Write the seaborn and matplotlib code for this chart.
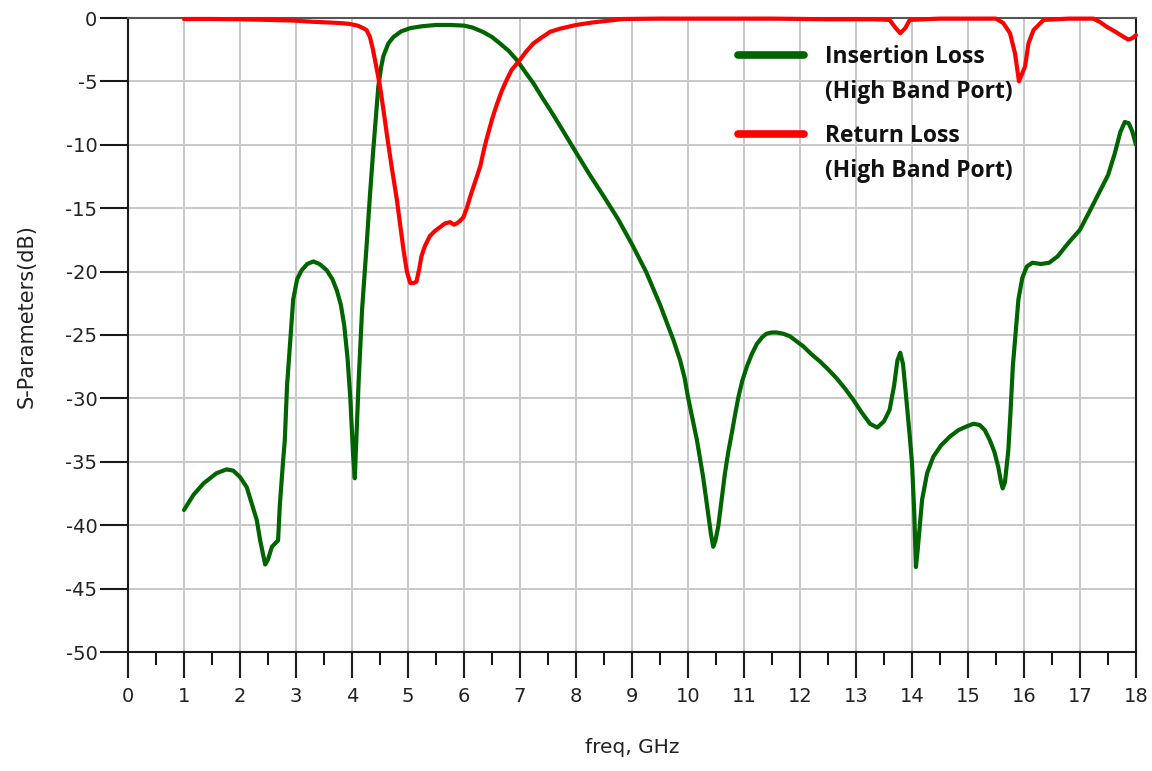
import matplotlib
matplotlib.use("Agg")
import matplotlib.pyplot as plt
import numpy as np
import pandas as pd
import seaborn as sns
from matplotlib.lines import Line2D
from matplotlib.ticker import MultipleLocator

# ---------------- data ----------------
il_freq = [1.0, 1.17, 1.35, 1.58, 1.76, 1.88, 2.0, 2.12, 2.21, 2.3, 2.36, 2.45, 2.5,
           2.57, 2.68, 2.71, 2.77, 2.80, 2.84, 2.89, 2.95, 3.02, 3.1, 3.2, 3.31, 3.42,
           3.55, 3.65, 3.73, 3.80, 3.86, 3.92, 3.97, 4.02, 4.05, 4.08, 4.12, 4.18, 4.26,
           4.32, 4.38, 4.43, 4.47, 4.52, 4.56, 4.65, 4.74, 4.88, 5.04, 5.25, 5.5, 5.75, 6.0,
           6.15, 6.34, 6.5, 6.64, 6.8, 6.94, 7.1, 7.24, 7.4, 7.54, 7.7, 7.83, 8.0, 8.25,
           8.5, 8.75, 9.0, 9.25, 9.5, 9.62, 9.74, 9.86, 9.94, 10.0, 10.08, 10.16, 10.27, 10.36,
           10.41, 10.45, 10.49, 10.54, 10.6, 10.66, 10.72, 10.78, 10.84, 10.9, 10.97, 11.05,
           11.14, 11.23, 11.32, 11.4, 11.5, 11.58, 11.7, 11.82, 11.94, 12.06, 12.2, 12.36,
           12.5, 12.65, 12.8, 12.95, 13.1, 13.25, 13.38, 13.5, 13.6, 13.68, 13.74, 13.79,
           13.84, 13.9, 13.96, 14.0, 14.04, 14.07, 14.1, 14.14, 14.18, 14.27, 14.38, 14.52,
           14.68, 14.83, 14.98, 15.1, 15.21, 15.3, 15.39, 15.47, 15.54, 15.59, 15.62, 15.66,
           15.72, 15.76, 15.8, 15.85, 15.9, 15.97, 16.05, 16.15, 16.3, 16.45, 16.6, 16.8,
           17.0, 17.2, 17.35, 17.5, 17.62, 17.72, 17.8, 17.87, 17.93, 18.0]
il_db = [-38.8, -37.6, -36.7, -35.9, -35.6, -35.7, -36.2, -37.0, -38.3, -39.6, -41.2, -43.1,
         -42.7, -41.7, -41.2, -38.5, -34.9, -33.3, -29.0, -25.9, -22.2, -20.6, -19.9, -19.4,
         -19.2, -19.4, -19.9, -20.6, -21.5, -22.6, -24.2, -26.8, -30.0, -34.5, -36.3, -33.0,
         -28.5, -23.0, -18.0, -14.0, -10.4, -7.6, -5.4, -3.9, -3.0, -2.0, -1.5, -1.05, -0.8,
         -0.65, -0.55, -0.55, -0.6, -0.75, -1.1, -1.5, -2.0, -2.6, -3.3, -4.3, -5.15, -6.3,
         -7.26, -8.4, -9.36, -10.6, -12.4, -14.1, -15.85, -17.85, -20.0, -22.6, -24.0, -25.4,
         -27.0, -28.4, -29.9, -31.6, -33.3, -36.2, -39.1, -40.7, -41.7, -41.2, -40.1, -38.0,
         -35.9, -34.2, -32.8, -31.3, -29.9, -28.6, -27.5, -26.5, -25.7, -25.2, -24.9, -24.8,
         -24.8, -24.9, -25.1, -25.5, -25.9, -26.5, -27.1, -27.7, -28.4, -29.2, -30.1, -31.1,
         -32.0, -32.3, -31.8, -30.9, -29.0, -27.0, -26.4, -27.3, -30.1, -33.0, -35.1, -39.0,
         -43.3, -42.0, -40.0, -38.0, -35.9, -34.6, -33.7, -33.0, -32.5, -32.2, -32.0, -32.1,
         -32.5, -33.3, -34.2, -35.4, -36.6, -37.1, -36.6, -34.1, -31.0, -27.5, -24.8, -22.2,
         -20.5, -19.6, -19.3, -19.4, -19.3, -18.8, -17.7, -16.7, -15.0, -13.7, -12.4, -10.7,
         -9.0, -8.2, -8.3, -8.9, -10.0]

rl_freq = [1.0, 1.5, 2.0, 2.5, 2.95, 3.3, 3.67, 3.85, 3.96, 4.1, 4.2, 4.26, 4.32, 4.37,
           4.41, 4.45, 4.5, 4.56, 4.62, 4.7, 4.8, 4.86, 4.92, 4.98, 5.04, 5.1, 5.15, 5.2,
           5.24, 5.3, 5.39, 5.48, 5.57, 5.66, 5.75, 5.82, 5.87, 5.93, 5.99, 6.05, 6.11, 6.2,
           6.29, 6.35, 6.4, 6.5, 6.58, 6.67, 6.76, 6.85, 7.0, 7.1, 7.24, 7.4, 7.54, 7.71,
           8.0, 8.3, 8.6, 8.84, 9.5, 10.5, 11.5, 12.5, 13.3, 13.6, 13.71, 13.79, 13.88,
           13.96, 14.5, 15.0, 15.5, 15.63, 15.75, 15.84, 15.91, 16.02, 16.08, 16.17, 16.35,
           16.8, 17.24, 17.35, 17.48, 17.6, 17.71, 17.8, 17.86, 17.93, 18.0]
rl_db = [-0.08, -0.08, -0.1, -0.15, -0.2, -0.3, -0.37, -0.42, -0.47, -0.6, -0.8, -0.95,
         -1.5, -2.4, -3.3, -4.2, -5.4, -7.2, -9.1, -11.5, -14.3, -16.3, -18.3, -20.0, -20.9,
         -20.9, -20.8, -19.8, -18.8, -18.0, -17.2, -16.8, -16.5, -16.2, -16.1, -16.3, -16.2,
         -16.0, -15.7, -15.0, -14.1, -12.9, -11.7, -10.5, -9.6, -8.0, -6.9, -5.8, -4.9, -4.1,
         -3.3, -2.7, -2.0, -1.5, -1.08, -0.85, -0.55, -0.35, -0.2, -0.08, -0.05, -0.05, -0.05,
         -0.1, -0.1, -0.15, -0.8, -1.2, -0.8, -0.15, -0.05, -0.05, -0.05, -0.4, -1.2, -2.8,
         -5.0, -3.8, -2.0, -0.95, -0.15, -0.05, -0.05, -0.3, -0.7, -1.0, -1.3, -1.55, -1.7,
         -1.6, -1.35]

il_labels = ["Insertion Loss", "(High Band Port)"]
rl_labels = ["Return Loss", "(High Band Port)"]
x_ticks = list(range(0, 19))
y_ticks = list(range(-50, 1, 5))

GREEN = "#006400"
RED = "#ff0000"

# ---------------- style ----------------
sns.set_theme(style="white")
plt.rcParams['font.family'] = ['DejaVu Sans']
plt.rcParams['axes.unicode_minus'] = False

fig = plt.figure(figsize=(11.52, 7.71), dpi=100)
ax = fig.add_axes([128 / 1152, 1 - 652 / 771, 1008 / 1152, 634 / 771])

df_il = pd.DataFrame({"freq": il_freq, "dB": il_db})
df_rl = pd.DataFrame({"freq": rl_freq, "dB": rl_db})
sns.lineplot(data=df_il, x="freq", y="dB", color=GREEN, linewidth=3.0, ax=ax,
             estimator=None, sort=False, zorder=3)
sns.lineplot(data=df_rl, x="freq", y="dB", color=RED, linewidth=3.0, ax=ax,
             estimator=None, sort=False, zorder=4, clip_on=False)

ax.set_xlim(0, 18)
ax.set_ylim(-50, 0)
ax.set_xticks(x_ticks)
ax.set_yticks(y_ticks)
ax.xaxis.set_minor_locator(MultipleLocator(0.5))
ax.grid(True, which="major", color="#c8c8c8", linewidth=1.4, zorder=0)
ax.set_axisbelow(True)

for side in ["left", "bottom", "right"]:
    ax.spines[side].set_color("#1a1a1a")
    ax.spines[side].set_linewidth(1.5)
ax.spines["top"].set_color("#555555")
ax.spines["top"].set_linewidth(1.5)

ax.tick_params(axis="x", which="major", direction="out", length=19, width=1.5,
               color="#1a1a1a", labelsize=14, pad=6, labelcolor="#222222",
               bottom=True)
ax.tick_params(axis="x", which="minor", direction="out", length=9.5, width=1.5,
               color="#1a1a1a", bottom=True)
ax.tick_params(axis="y", which="major", direction="out", length=20, width=1.5,
               color="#1a1a1a", labelsize=14, pad=2, labelcolor="#222222", left=True)

ax.set_xlabel("freq, GHz", fontsize=14.5, color="#222222", va="top")
ax.set_ylabel("S-Parameters(dB)", fontsize=15, color="#222222")
ax.xaxis.set_label_coords(0.5, (652 - 738) / 634)
ax.yaxis.set_label_coords((37 - 128) / 1008, (652 - 316) / 634)

leg_prop = {"family": "Open Sans", "weight": "bold", "size": 16.5}
leg_kw = dict(loc="upper left", frameon=False, borderpad=0, borderaxespad=0,
              handlelength=2.9, handletextpad=0.9, labelspacing=0.48, prop=leg_prop)


def make_legend(color, labels, top_px):
    handles = [Line2D([], [], color=color, linewidth=5.5),
               Line2D([], [], color="none", linewidth=5.5)]
    lg = ax.legend(handles, labels,
                   bbox_to_anchor=((738 - 128) / 1008, (652 - top_px) / 634), **leg_kw)
    for t in lg.get_texts():
        t.set_color("#111111")
    return lg


leg1 = make_legend(GREEN, il_labels, 45)
ax.add_artist(leg1)
leg2 = make_legend(RED, rl_labels, 124)

fig.savefig("out.png", dpi=100)
